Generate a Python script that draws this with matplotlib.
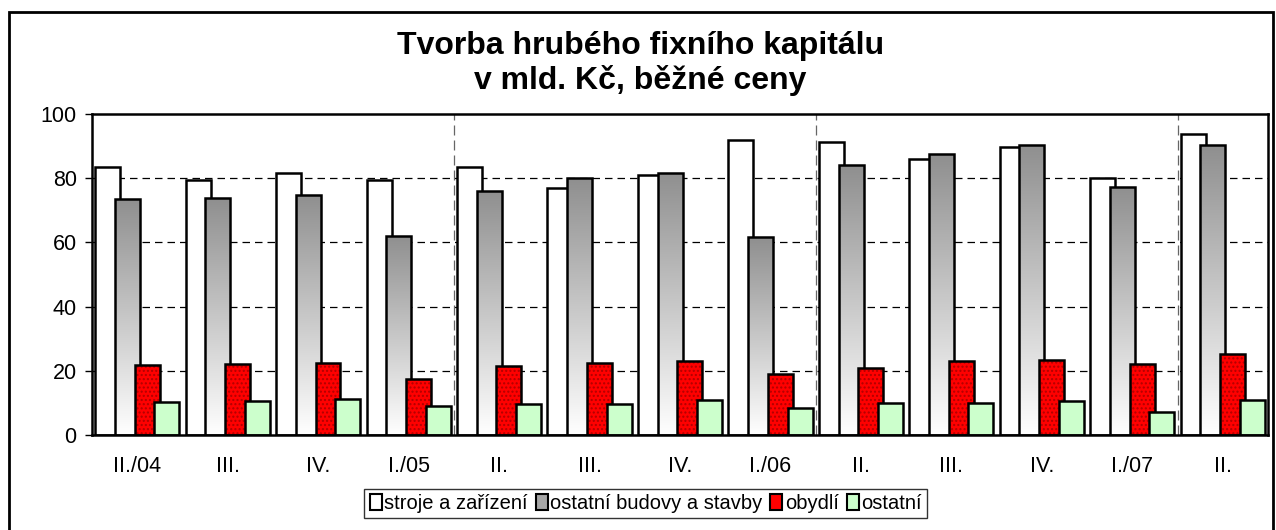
import numpy as np
import matplotlib
matplotlib.use("Agg")
import matplotlib.pyplot as plt
from matplotlib.patches import Rectangle, Patch

plt.rcParams['font.family'] = ['Liberation Sans', 'DejaVu Sans']

# data (mld. Kč, běžné ceny)
quarters = ['II./04', 'III.', 'IV.', 'I./05', 'II.', 'III.', 'IV.', 'I./06',
            'II.', 'III.', 'IV.', 'I./07', 'II.']
stroje = [83.6, 79.4, 81.6, 79.3, 83.6, 76.8, 81.0, 91.9, 91.4, 85.9, 89.6, 80.2, 93.8]
budovy = [73.4, 73.7, 74.9, 62.0, 76.1, 80.0, 81.7, 61.6, 84.1, 87.5, 90.4, 77.4, 90.3]
obydli = [21.8, 22.0, 22.3, 17.4, 21.5, 22.5, 23.2, 19.0, 21.0, 23.1, 23.4, 22.0, 25.3]
ostatni = [10.3, 10.6, 11.3, 8.9, 9.7, 9.7, 10.9, 8.5, 10.1, 9.9, 10.7, 7.3, 11.0]
names = ['stroje a zařízení', 'ostatní budovy a stavby', 'obydlí', 'ostatní']

fig = plt.figure(figsize=(12.76, 5.30), dpi=100)
ax = fig.add_axes([0.0721, 0.1792, 0.9216, 0.6057])

n = len(quarters)
x = np.arange(n)
w = 0.276
step = 0.218
start = 0.5 - (3 * step + w) / 2
lw = 1.8

# grid lines
for v in [20, 40, 60, 80]:
    ax.axhline(v, color='black', lw=0.9, ls=(0, (6, 4)), zorder=0)
for b in [4, 8, 12]:
    ax.axvline(b, color='#666666', lw=0.9, ls=(0, (8, 4)), zorder=0)

# gradient for the grey bars: dark at top, white at bottom
grad = np.linspace(1.0, 0.0, 256).reshape(-1, 1)
gcmap = matplotlib.colors.LinearSegmentedColormap.from_list('g', ['#ffffff', '#8f8f8f'])

z = 2
for i in range(n):
    x0 = x[i] + start
    ax.bar(x0, stroje[i], width=w, align='edge', color='white', edgecolor='black', lw=lw, zorder=z)
    ax.bar(x0 + step, budovy[i], width=w, align='edge', color='none', edgecolor='black', lw=lw, zorder=z + 1.1)
    im = ax.imshow(grad, cmap=gcmap, aspect='auto', extent=(x0 + step, x0 + step + w, 0, budovy[i]),
                   zorder=z + 1, vmin=0, vmax=1)
    clip = Rectangle((x0 + step, 0), w, budovy[i], transform=ax.transData)
    im.set_clip_path(clip)
    ax.bar(x0 + 2 * step, obydli[i], width=w, align='edge', color='#ff0000', edgecolor='#b00000',
           hatch='....', lw=0, zorder=z + 2)
    ax.bar(x0 + 2 * step, obydli[i], width=w, align='edge', color='none', edgecolor='black', lw=lw, zorder=z + 2.1)
    ax.bar(x0 + 3 * step, ostatni[i], width=w, align='edge', color='#ccffcc', edgecolor='black', lw=lw, zorder=z + 3)

ax.set_xlim(0, n)
ax.set_ylim(0, 100)
ax.set_yticks([0, 20, 40, 60, 80, 100])
ax.set_xticks(x + 0.5)
ax.set_xticklabels(quarters)
ax.tick_params(axis='y', labelsize=15.5, length=5, width=1, direction='out', pad=6)
ax.tick_params(axis='x', labelsize=15.5, length=0, pad=15)
for s in ax.spines.values():
    s.set_linewidth(1.8)
ax.spines['bottom'].set_zorder(10)

fig.text(0.502, 0.914, 'Tvorba hrubého fixního kapitálu', ha='center', va='center',
         fontsize=23, fontweight='bold')
fig.text(0.502, 0.848, 'v mld. Kč, běžné ceny', ha='center', va='center',
         fontsize=23, fontweight='bold')

handles = [Patch(facecolor='white', edgecolor='black', lw=1.5),
           Patch(facecolor='#a6a6a6', edgecolor='black', lw=1.5),
           Patch(facecolor='#ff0000', edgecolor='black', lw=1.5),
           Patch(facecolor='#ccffcc', edgecolor='black', lw=1.5)]
leg = fig.legend(handles, names, loc='center', bbox_to_anchor=(0.506, 0.05), ncol=4,
                 fontsize=14.5, frameon=True, fancybox=False, edgecolor='black',
                 handlelength=0.6, handleheight=0.85, handletextpad=0.12, columnspacing=0.4,
                 borderpad=0.25, borderaxespad=0)
leg.get_frame().set_linewidth(1.0)

# outer chart frame
fig.patches.append(Rectangle((9 / 1276, -0.05), 1264 / 1276, 1.05 - 12 / 530,
                             transform=fig.transFigure, fill=False, edgecolor='black', lw=2))

fig.savefig('out.png', dpi=100)
